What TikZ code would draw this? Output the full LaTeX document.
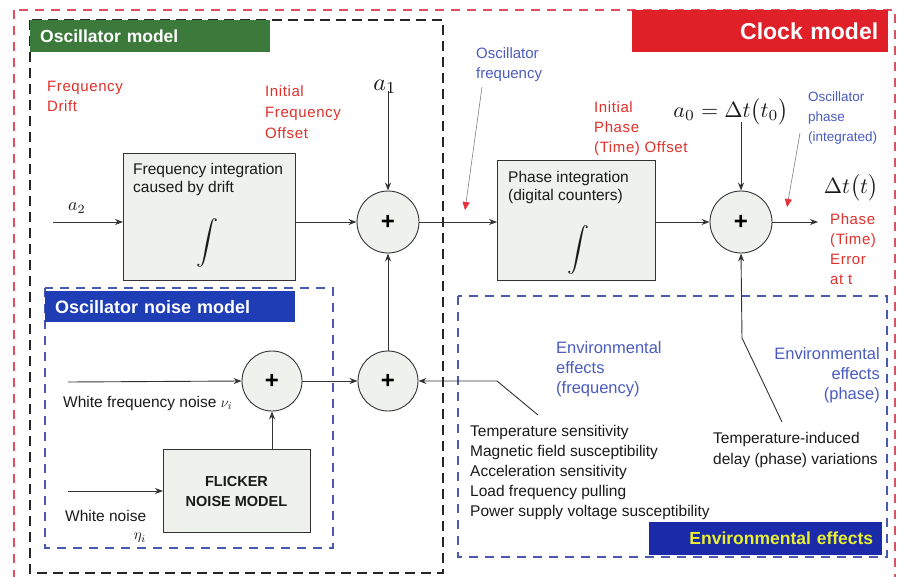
\documentclass[tikz,border=0pt]{standalone}
\usepackage{fontspec}
\setmainfont{Liberation Sans}
\newfontfamily\lblfont[LetterSpace=4]{Liberation Sans}
\usetikzlibrary{arrows.meta}
\definecolor{outerred}{HTML}{E05060}
\definecolor{dashblue}{HTML}{4A58B0}
\definecolor{oscgreen}{HTML}{3C7A3C}
\definecolor{clockred}{HTML}{E02028}
\definecolor{noiseblue}{HTML}{1F3DB5}
\definecolor{envblue}{HTML}{1A2AA8}
\definecolor{envyellow}{HTML}{E8F030}
\definecolor{lblred}{HTML}{E0302A}
\definecolor{lblblue}{HTML}{4A5CC0}
\definecolor{txtblack}{HTML}{1A1A1A}
\definecolor{boxfill}{HTML}{EEF1EC}
\definecolor{leadred}{HTML}{E8303A}
\begin{document}
\begin{tikzpicture}[x=1pt,y=-1pt,
  outerbox/.style={draw=outerred, line width=1.4pt, dash pattern=on 9pt off 7pt},
  oscbox/.style={draw=black!85, line width=2pt, dash pattern=on 10pt off 6pt},
  bluebox/.style={draw=dashblue, line width=1.4pt, dash pattern=on 9pt off 7pt},
  titlebox/.style={inner ysep=0pt, inner xsep=10pt, anchor=north west, font=\bfseries},
  sumnode/.style={circle, draw=black!80, line width=0.9pt, fill=boxfill, minimum size=62pt, inner sep=0pt, font=\fontsize{24}{24}\selectfont\bfseries},
  blockbox/.style={draw=black!80, line width=0.9pt, fill=boxfill, anchor=north west, inner sep=0pt},
  conn/.style={draw=black!80, line width=0.9pt},
  arr/.style={conn, -{Stealth[length=8pt,width=6pt]}},
  lead/.style={draw=gray, line width=0.6pt, -{Triangle[length=8pt,width=7pt,color=leadred]}},
  redlbl/.style={text=lblred, font=\lblfont\fontsize{15}{20}\selectfont, align=left, anchor=north west, inner sep=0pt},
  bluelbl/.style={text=lblblue, font=\fontsize{15}{20}\selectfont, align=left, anchor=north west, inner sep=0pt},
  blacktxt/.style={text=txtblack, font=\fontsize{15.5}{20}\selectfont, align=left, anchor=north west, inner sep=0pt},
  boxtxt/.style={text=txtblack, font=\fontsize{15.5}{18}\selectfont, align=left, anchor=north west, inner sep=0pt},
  mathlbl/.style={inner sep=0pt, text=txtblack},
  integ/.style={inner sep=0pt, text=txtblack}
]
\useasboundingbox (0,0) rectangle (900,576);
\fill[white] (0,0) rectangle (900,576);

% frames
\draw[outerbox] (14,10) rectangle (895,600);
\draw[oscbox] (30,20) rectangle (443,573);
\draw[bluebox] (45,288) rectangle (333,548);
\draw[bluebox] (458,296) rectangle (887,557);

% titles
\node[titlebox, fill=oscgreen, text=white, minimum width=240pt, minimum height=32pt, text width=220pt, align=left, font=\bfseries\fontsize{17.5}{20}\selectfont] (tosc) at (30,20) {Oscillator model};
\node[titlebox, fill=clockred, text=white, minimum width=256pt, minimum height=42pt, text width=236pt, align=right, font=\bfseries\fontsize{23}{25}\selectfont] (tclock) at (632,10) {Clock model};
\node[titlebox, fill=noiseblue, text=white, minimum width=250pt, minimum height=31pt, text width=230pt, align=left, font=\bfseries\fontsize{18}{20}\selectfont] (tnoise) at (45,291) {Oscillator noise model};
\node[titlebox, fill=envblue, text=envyellow, minimum width=233pt, minimum height=33pt, inner xsep=9pt, text width=215pt, align=right, font=\bfseries\fontsize{17.5}{20}\selectfont] (tenv) at (649,522) {Environmental effects};

% blocks
\node[blockbox, minimum width=172pt, minimum height=127pt] (fib) at (123,153) {};
\node[boxtxt] (fibtxt) at (133,163) {Frequency integration\\caused by drift};
\node[integ] (fibint) at (207,243) {\scalebox{2.2}{$\displaystyle\int$}};

\node[blockbox, minimum width=158pt, minimum height=120pt] (pib) at (497,160) {};
\node[boxtxt] (pibtxt) at (508,171) {Phase integration\\(digital counters)};
\node[integ] (pibint) at (578,250) {\scalebox{2.2}{$\displaystyle\int$}};

\node[blockbox, minimum width=147pt, minimum height=83pt] (flk) at (163,449) {};
\node[text=txtblack, font=\bfseries\fontsize{14.5}{20}\selectfont, align=center, inner sep=0pt] (flktxt) at (236.5,492) {FLICKER\\NOISE MODEL};

% summing junctions
\node[sumnode] (s1) at (388,222) {+};
\node[sumnode] (s2) at (741,222) {+};
\node[sumnode, minimum size=60pt] (s3) at (272,381) {+};
\node[sumnode, minimum size=60pt] (s4) at (388,381) {+};

% math labels
\node[mathlbl] (a2) at (77,208) {\scalebox{1.8}{$a_2$}};
\node[mathlbl] (a1) at (385,87) {\scalebox{2.4}{$a_1$}};
\node[mathlbl] (a0) at (731,112) {\scalebox{2.2}{$a_0=\Delta t\bigl(t_0\bigr)$}};
\node[mathlbl] (dt) at (851,188) {\scalebox{2.2}{$\Delta t\bigl(t\bigr)$}};

% coordinates
\coordinate (a2in) at (53,222);
\coordinate (wfnin) at (68,382);
\coordinate (wnin) at (68,491);
\coordinate (outend) at (818,222);
\coordinate (envfA) at (538,415);
\coordinate (envfB) at (497,381);
\coordinate (envpA) at (782,422);
\coordinate (envpB) at (742,338);
\coordinate (oscfA) at (482,87);
\coordinate (oscfB) at (465,210);
\coordinate (oscpA) at (800,133);
\coordinate (oscpB) at (787,207);

% connectors
\draw[arr] (a2in) -- (a2in -| fib.west);
\draw[arr] (fib.east |- s1) -- (s1.west);
\draw[arr] ([yshift=3pt]s1 |- a1.south) -- (s1.north);
\draw[arr] (s1.east) -- (pib.west |- s1);
\draw[arr] (pib.east |- s2) -- (s2.west);
\draw[arr] ([yshift=3pt]s2 |- a0.south) -- (s2.north);
\draw[arr] (s2.east) -- (outend);
\draw[arr] (wfnin) -- (s3.west);
\draw[arr] (wnin) -- (wnin -| flk.west);
\draw[arr] (s3 |- flk.north) -- (s3.south);
\draw[arr] (s3.east) -- (s4.west);
\draw[arr] (s4.north) -- (s1.south);
\draw[arr] (envfA) -- (envfB) -- (s4.east);
\draw[arr] (envpA) -- (envpB) -- (s2.south);
\draw[lead] (oscfA) -- (oscfB);
\draw[lead] (oscpA) -- (oscpB);

% red labels
\node[redlbl] (lfd) at (47,81) {Frequency\\Drift};
\node[redlbl, font=\lblfont\fontsize{15}{21}\selectfont] (lifo) at (265,85) {Initial\\Frequency\\Offset};
\node[redlbl] (lipo) at (594,101) {Initial\\Phase\\(Time) Offset};
\node[redlbl] (lpte) at (830,213) {Phase\\(Time)\\Error\\at t};

% blue labels
\node[bluelbl] (lof) at (476,47) {Oscillator\\frequency};
\node[bluelbl, font=\fontsize{13.5}{20}\selectfont] (lop) at (808,92) {Oscillator\\phase\\(integrated)};
\node[bluelbl, font=\fontsize{16.5}{20}\selectfont] (lef) at (556,341) {Environmental\\effects\\(frequency)};
\node[bluelbl, font=\fontsize{16.5}{20}\selectfont, anchor=north east, align=right] (lep) at (880,347) {Environmental\\effects\\(phase)};

% black texts
\node[blacktxt] (lwfn) at (63,396) {White frequency noise $\nu_i$};
\node[blacktxt] (lwn) at (65,510) {White noise};
\node[mathlbl] (leta) at (140,538) {\scalebox{1.5}{$\eta_i$}};
\node[blacktxt] (lenvf) at (470,425) {Temperature sensitivity\\Magnetic field susceptibility\\Acceleration sensitivity\\Load frequency pulling\\Power supply voltage susceptibility};
\node[blacktxt, font=\fontsize{15.5}{21}\selectfont] (lenvp) at (713,432) {Temperature-induced\\delay (phase) variations};
\end{tikzpicture}
\end{document}
